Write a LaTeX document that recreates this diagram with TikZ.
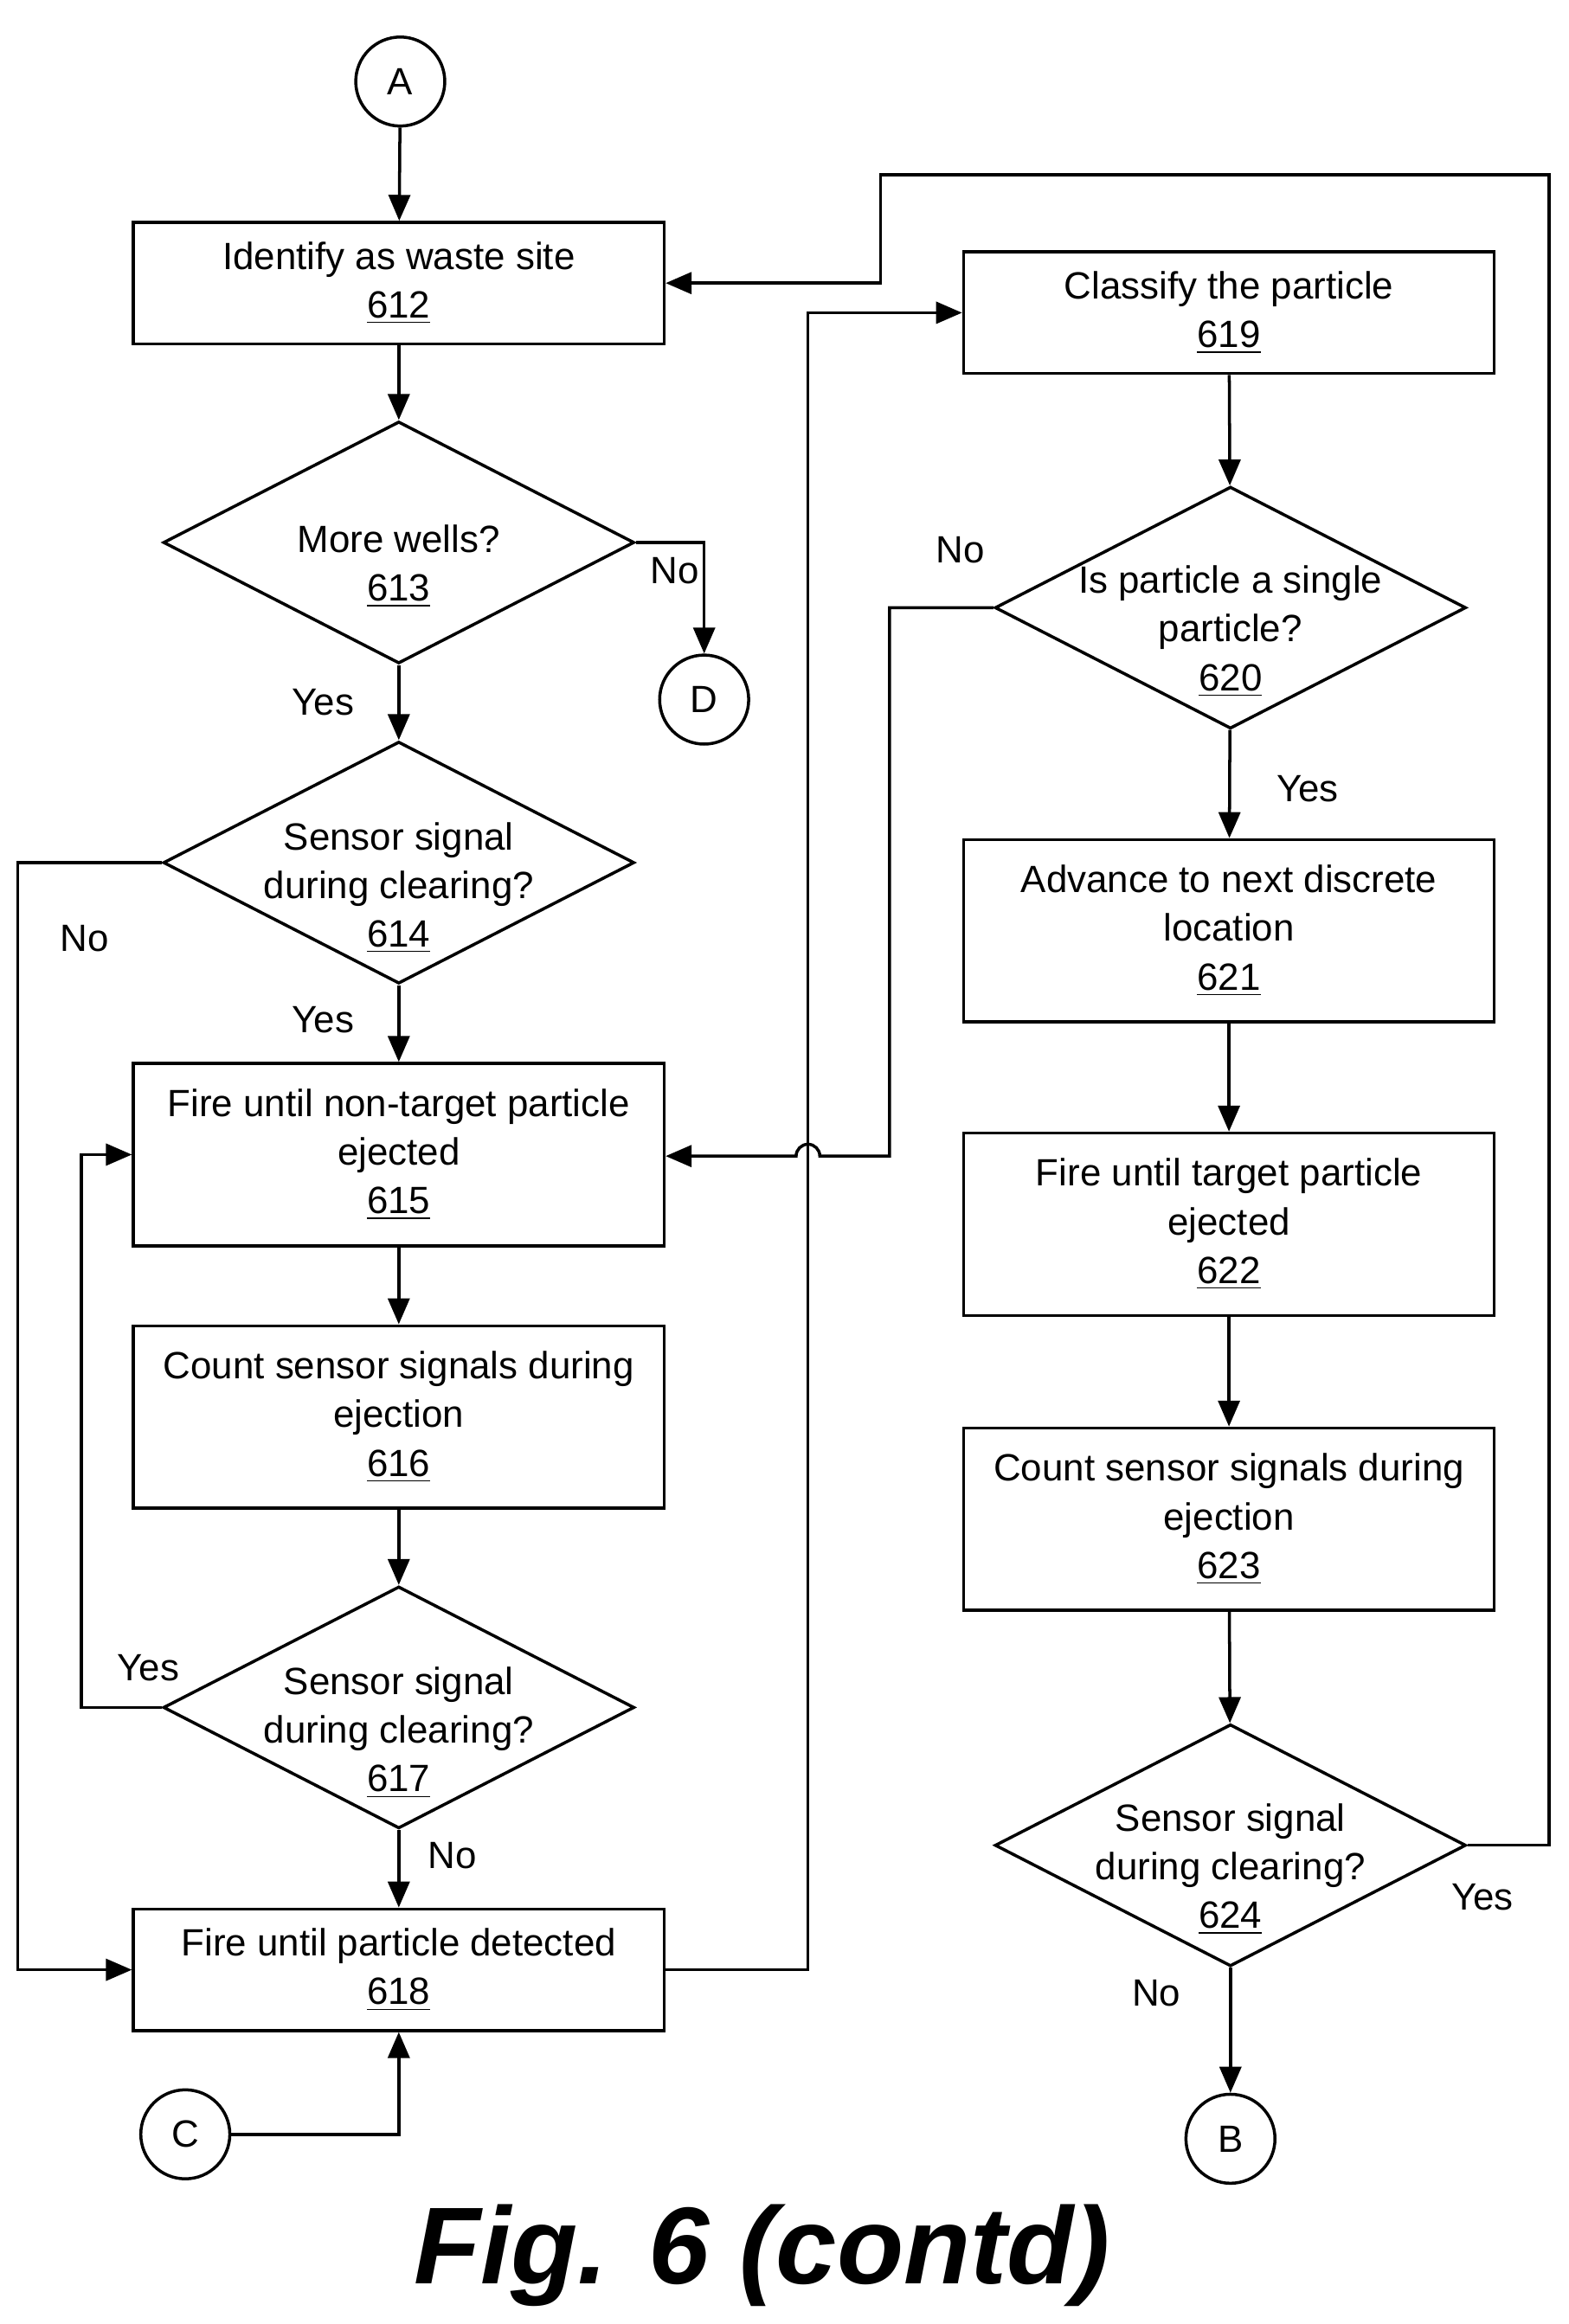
\documentclass[tikz,border=0pt]{standalone}
\usepackage{fontspec}
\setmainfont{Liberation Sans}
\usetikzlibrary{arrows.meta,shapes.geometric,calc}

\begin{document}
\begin{tikzpicture}[x=0.017145cm, y=-0.017145cm,
  font=\fontsize{12.5}{16}\selectfont]
\tikzstyle{proc}=[rectangle, draw, line width=1pt, minimum width=6.14cm,
                  align=center, inner sep=0pt]
\tikzstyle{test}=[diamond, draw, line width=1pt, minimum width=5.45cm,
                  minimum height=2.8cm, inner sep=0pt]
\tikzstyle{testtext}=[align=center]
\tikzstyle{conn}=[circle, draw, line width=1pt, minimum size=1.03cm, inner sep=0pt]
\tikzstyle{flow}=[line width=1pt, -{Triangle[length=0.3cm,width=0.25cm]}]
\useasboundingbox (0,0) rectangle (1058,1568);

% left column
\node[conn] (A) at (270,55) {A};
\node[proc, minimum height=1.406cm] (b612) at (269,191) {Identify as waste site\\\underline{612}};
\node[test] (d613) at (269,366) {};
\node[testtext] at (269,382) {More wells?\\\underline{613}};
\node[conn] (D) at (475,472) {D};
\node[test] (d614) at (269,582) {};
\node[testtext] at (269,599) {Sensor signal\\during clearing?\\\underline{614}};
\node[proc, minimum height=2.11cm] (b615) at (269,779) {Fire until non-target particle\\ejected\\\underline{615}};
\node[proc, minimum height=2.11cm] (b616) at (269,956) {Count sensor signals during\\ejection\\\underline{616}};
\node[test] (d617) at (269,1152) {};
\node[testtext] at (269,1169) {Sensor signal\\during clearing?\\\underline{617}};
\node[proc, minimum height=1.406cm] (b618) at (269,1329) {Fire until particle detected\\\underline{618}};
\node[conn] (C) at (125,1440) {C};

% right column
\node[proc, minimum height=1.406cm] (b619) at (829,211) {Classify the particle\\\underline{619}};
\node[test] (d620) at (830,410) {};
\node[testtext] at (830,426) {Is particle a single\\particle?\\\underline{620}};
\node[proc, minimum height=2.11cm] (b621) at (829,628) {Advance to next discrete\\location\\\underline{621}};
\node[proc, minimum height=2.11cm] (b622) at (829,826) {Fire until target particle\\ejected\\\underline{622}};
\node[proc, minimum height=2.11cm] (b623) at (829,1025) {Count sensor signals during\\ejection\\\underline{623}};
\node[test] (d624) at (830,1245) {};
\node[testtext] at (830,1261) {Sensor signal\\during clearing?\\\underline{624}};
\node[conn] (B) at (830,1443) {B};

% branch labels
\node (no613) at (455,385) {No};
\node (yes613) at (218,474) {Yes};
\node (no614) at (57,633) {No};
\node (yes614) at (218,688) {Yes};
\node (yes617) at (100,1125) {Yes};
\node (no617) at (305,1252) {No};
\node (no620) at (648,371) {No};
\node (yes620) at (882,532) {Yes};
\node (yes624) at (1000,1280) {Yes};
\node (no624) at (780,1345) {No};

\node[font=\fontsize{36}{42}\selectfont\bfseries\itshape] (fig) at (514,1522) {Fig. 6 (contd)};

% corner points
\coordinate (p614) at (12,1329);
\coordinate (q617) at (55,779);
\coordinate (m618) at (545,211);
\coordinate (j620) at (600,780);
\coordinate (k1) at (1045,118);
\coordinate (k2) at (594,118);

\draw[flow] (A) -- (b612);
\draw[flow] (b612) -- (d613);
\draw[flow] (d613.east) -| (D);
\draw[flow] (d613) -- (d614);
\draw[flow] (d614.west) -| (p614) -- (b618.west);
\draw[flow] (d614) -- (b615);
\draw[flow] (b615) -- (b616);
\draw[flow] (b616) -- (d617);
\draw[flow] (d617.west) -| (q617) -- (b615.west);
\draw[flow] (d617) -- (b618);
\draw[flow] (C) -| (b618.south);
\draw[flow] (b618.east) -| (m618) -- (b619.west);
\draw[flow] (b619) -- (d620);
\draw[flow] (d620.west) -| (j620) -- ($(m618 |- j620)+(8,0)$)
  arc[start angle=0, end angle=180, radius=0.137cm] -- (b615.east |- j620);
\draw[flow] (d620) -- (b621);
\draw[flow] (b621) -- (b622);
\draw[flow] (b622) -- (b623);
\draw[flow] (b623) -- (d624);
\draw[flow] (d624.east) -| (k1) -- (k2) |- (b612.east);
\draw[flow] (d624) -- (B);
\end{tikzpicture}
\end{document}
